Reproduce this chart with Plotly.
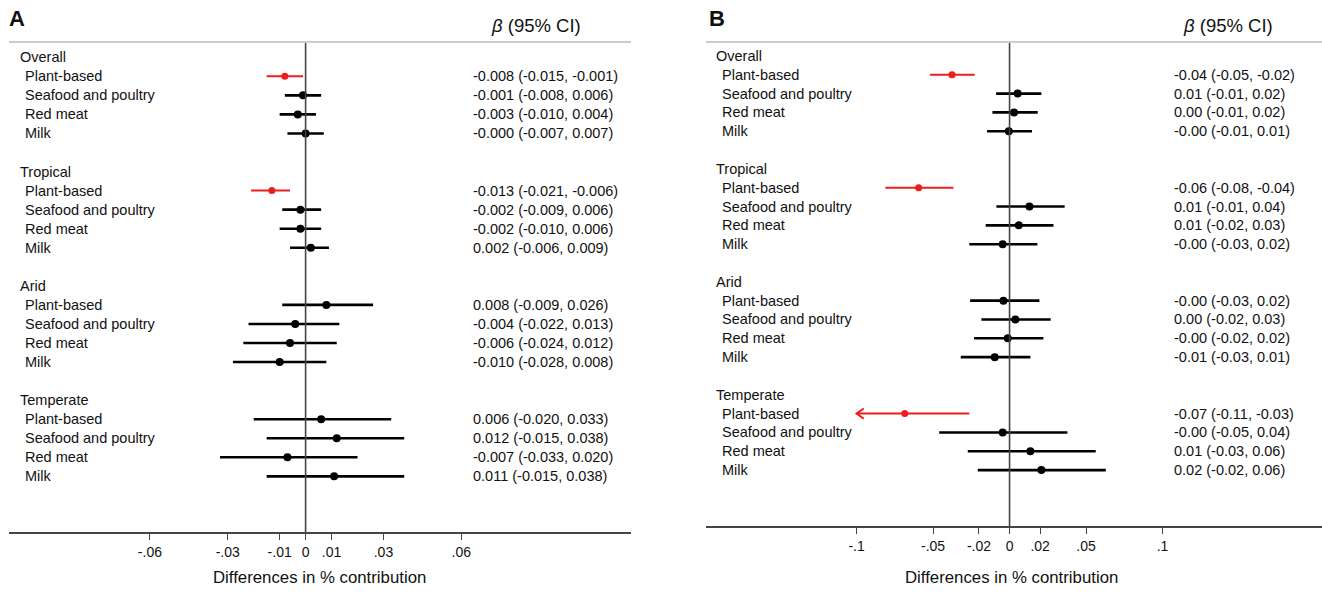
import plotly.graph_objects as go

W, H = 1322, 593

groups = ["Overall", "Tropical", "Arid", "Temperate"]
foods = ["Plant-based", "Seafood and poultry", "Red meat", "Milk"]

# Panel A: beta, lower CI, upper CI (group-major order)
a_est = [-0.008, -0.001, -0.003, -0.000,
         -0.013, -0.002, -0.002, 0.002,
         0.008, -0.004, -0.006, -0.010,
         0.006, 0.012, -0.007, 0.011]
a_lo = [-0.015, -0.008, -0.010, -0.007,
        -0.021, -0.009, -0.010, -0.006,
        -0.009, -0.022, -0.024, -0.028,
        -0.020, -0.015, -0.033, -0.015]
a_hi = [-0.001, 0.006, 0.004, 0.007,
        -0.006, 0.006, 0.006, 0.009,
        0.026, 0.013, 0.012, 0.008,
        0.033, 0.038, 0.020, 0.038]
a_txt = ["-0.008 (-0.015, -0.001)", "-0.001 (-0.008, 0.006)", "-0.003 (-0.010, 0.004)", "-0.000 (-0.007, 0.007)",
         "-0.013 (-0.021, -0.006)", "-0.002 (-0.009, 0.006)", "-0.002 (-0.010, 0.006)", "0.002 (-0.006, 0.009)",
         "0.008 (-0.009, 0.026)", "-0.004 (-0.022, 0.013)", "-0.006 (-0.024, 0.012)", "-0.010 (-0.028, 0.008)",
         "0.006 (-0.020, 0.033)", "0.012 (-0.015, 0.038)", "-0.007 (-0.033, 0.020)", "0.011 (-0.015, 0.038)"]

# Panel B: beta, lower CI, upper CI (estimated from the plot)
b_est = [-0.0376, 0.0053, 0.0029, -0.0005,
         -0.0594, 0.0130, 0.0060, -0.0045,
         -0.0040, 0.0038, -0.0012, -0.0097,
         -0.0685, -0.0045, 0.0136, 0.0208]
b_lo = [-0.0520, -0.0088, -0.0112, -0.0147,
        -0.0812, -0.0086, -0.0156, -0.0263,
        -0.0258, -0.0184, -0.0232, -0.0319,
        -0.1100, -0.0460, -0.0273, -0.0208]
b_hi = [-0.0228, 0.0208, 0.0184, 0.0147,
        -0.0367, 0.0360, 0.0287, 0.0182,
        0.0195, 0.0269, 0.0221, 0.0136,
        -0.0263, 0.0378, 0.0563, 0.0629]
b_txt = ["-0.04 (-0.05, -0.02)", "0.01 (-0.01, 0.02)", "0.00 (-0.01, 0.02)", "-0.00 (-0.01, 0.01)",
         "-0.06 (-0.08, -0.04)", "0.01 (-0.01, 0.04)", "0.01 (-0.02, 0.03)", "-0.00 (-0.03, 0.02)",
         "-0.00 (-0.03, 0.02)", "0.00 (-0.02, 0.03)", "-0.00 (-0.02, 0.02)", "-0.01 (-0.03, 0.01)",
         "-0.07 (-0.11, -0.03)", "-0.00 (-0.05, 0.04)", "0.01 (-0.03, 0.06)", "0.02 (-0.02, 0.06)"]
b_clip = -0.10  # lower display limit of panel B

a_ticks = [-0.06, -0.03, -0.01, 0, 0.01, 0.03, 0.06]
a_ticktext = ["-.06", "-.03", "-.01", "0", ".01", ".03", ".06"]
b_ticks = [-0.1, -0.05, -0.02, 0, 0.02, 0.05, 0.1]
b_ticktext = ["-.1", "-.05", "-.02", "0", ".02", ".05", ".1"]

header = "<i>β</i> (95% CI)"
xtitle = "Differences in % contribution"

RED = "#ee1c1c"
BLACK = "#000000"
FONT = "Liberation Sans, Arial, sans-serif"
TXT = "#111111"

fig = go.Figure()


def row_of(i):
    g, f = divmod(i, len(foods))
    return g * (len(foods) + 2) + 1 + f


def add_panel(est, lo, hi, xa, ya, clip=None):
    segs = {True: ([], []), False: ([], [])}
    pts = {True: ([], []), False: ([], [])}
    arrows = ([], [])
    for i in range(len(est)):
        sig = hi[i] < 0 or lo[i] > 0
        r = row_of(i)
        left = lo[i]
        if clip is not None and lo[i] < clip:
            left = clip
            arrows[0].extend([left + 0.0047, left, left + 0.0047, None])
            arrows[1].extend([r - 0.27, r, r + 0.27, None])
        segs[sig][0].extend([left, hi[i], None])
        segs[sig][1].extend([r, r, None])
        pts[sig][0].append(est[i])
        pts[sig][1].append(r)
    for sig in (False, True):
        fig.add_trace(go.Scatter(x=segs[sig][0], y=segs[sig][1], mode="lines",
                                 line=dict(color=RED if sig else BLACK, width=2 if sig else 2.6),
                                 xaxis=xa, yaxis=ya, showlegend=False, hoverinfo="skip"))
    if arrows[0]:
        fig.add_trace(go.Scatter(x=arrows[0], y=arrows[1], mode="lines",
                                 line=dict(color=RED, width=2),
                                 xaxis=xa, yaxis=ya, showlegend=False, hoverinfo="skip"))
    for sig in (False, True):
        fig.add_trace(go.Scatter(x=pts[sig][0], y=pts[sig][1], mode="markers",
                                 marker=dict(color=RED if sig else BLACK, size=7 if sig else 8),
                                 xaxis=xa, yaxis=ya, showlegend=False))


add_panel(a_est, a_lo, a_hi, "x", "y")
add_panel(b_est, b_lo, b_hi, "x2", "y2", clip=b_clip)


def px(x):
    return x / W


def py(y):
    return 1 - y / H


axis_common = dict(showgrid=False, zeroline=False, showline=True, linecolor="#444", linewidth=1.5,
                   ticks="outside", ticklen=6, tickwidth=1.3, tickcolor="#444",
                   tickfont=dict(family=FONT, size=14, color=TXT), fixedrange=True)

fig.update_layout(
    width=W, height=H, margin=dict(l=0, r=0, t=0, b=0),
    paper_bgcolor="white", plot_bgcolor="white",
    xaxis=dict(domain=[px(9), px(631)], range=[-0.1143, 0.1254], anchor="y",
               tickvals=a_ticks, ticktext=a_ticktext, **axis_common),
    yaxis=dict(domain=[py(532), py(42)], range=[24.92, -0.80], visible=False, anchor="x", fixedrange=True),
    xaxis2=dict(domain=[px(706), 1.0], range=[-0.1984, 0.2042], anchor="y2",
                tickvals=b_ticks, ticktext=b_ticktext, **axis_common),
    yaxis2=dict(domain=[py(526), py(42)], range=[24.97, -0.74], visible=False, anchor="x2", fixedrange=True),
)

shapes = []
for xa, ya in (("x", "y"), ("x2", "y2")):
    shapes.append(dict(type="line", xref=xa, yref=ya + " domain", x0=0, x1=0, y0=0, y1=1,
                       line=dict(color="#444", width=1.6)))
    shapes.append(dict(type="line", xref=xa + " domain", yref=ya + " domain", x0=0, x1=1, y0=1, y1=1,
                       line=dict(color="#cccccc", width=2)))
fig.update_layout(shapes=shapes)

ann = []
panels = [
    ("A", 7, "y", 17.5, 23, 471.0, 535.5, 319, a_txt),
    ("B", 707, "y2", 714.5, 720, 1172.0, 1227.5, 1011, b_txt),
]
for letter, lx, ya, gx, fx, tx, hx, ttx, texts in panels:
    ann.append(dict(text="<b>%s</b>" % letter, xref="paper", yref="paper", x=px(lx), y=py(19),
                    xanchor="left", yanchor="middle", showarrow=False,
                    font=dict(family=FONT, size=22, color=TXT)))
    ann.append(dict(text=header, xref="paper", yref="paper", x=px(hx), y=py(25),
                    xanchor="center", yanchor="middle", showarrow=False,
                    font=dict(family=FONT, size=18.5, color=TXT)))
    ann.append(dict(text=xtitle, xref="paper", yref="paper", x=px(ttx), y=py(577),
                    xanchor="center", yanchor="middle", showarrow=False,
                    font=dict(family=FONT, size=16.8, color=TXT)))
    for g, name in enumerate(groups):
        ann.append(dict(text=name, xref="paper", yref=ya, x=px(gx), y=g * (len(foods) + 2),
                        xanchor="left", yanchor="middle", showarrow=False,
                        font=dict(family=FONT, size=14.5, color=TXT)))
    for i, t in enumerate(texts):
        r = row_of(i)
        ann.append(dict(text=foods[i % len(foods)], xref="paper", yref=ya, x=px(fx), y=r,
                        xanchor="left", yanchor="middle", showarrow=False,
                        font=dict(family=FONT, size=14.5, color=TXT)))
        ann.append(dict(text=t, xref="paper", yref=ya, x=px(tx), y=r,
                        xanchor="left", yanchor="middle", showarrow=False,
                        font=dict(family=FONT, size=14.5, color=TXT)))
fig.update_layout(annotations=ann)

fig.write_html("out.html", config={"displayModeBar": False},
               post_script="document.body.style.margin='0px';")
